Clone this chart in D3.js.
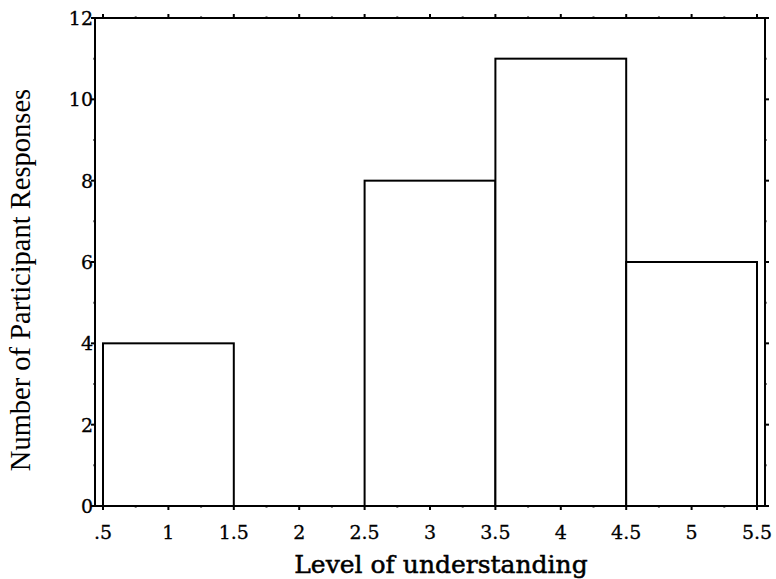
<!DOCTYPE html>
<html>
<head>
<meta charset="utf-8">
<script src="https://cdn.jsdelivr.net/npm/d3@7"></script>
<style>
  body { margin: 0; background: #fff; }
  svg { display: block; }
</style>
</head>
<body>
<div id="chart"></div>
<script>
// histogram data
var binStarts = [0.5, 1.5, 2.5, 3.5, 4.5];
var binEnds = [1.5, 2.5, 3.5, 4.5, 5.5];
var counts = [4, 0, 8, 11, 6];

var xTicks = [0.5, 1, 1.5, 2, 2.5, 3, 3.5, 4, 4.5, 5, 5.5];
var xTickLabels = [".5", "1", "1.5", "2", "2.5", "3", "3.5", "4", "4.5", "5", "5.5"];
var xMinor = [0.75, 1.25, 1.75, 2.25, 2.75, 3.25, 3.75, 4.25, 4.75, 5.25];
var yTicks = [0, 2, 4, 6, 8, 10, 12];
var yMinor = [1, 3, 5, 7, 9, 11];

var width = 776, height = 579;
var m = { left: 95, right: 765, top: 18, bottom: 506 };

var svg = d3.select("#chart").append("svg")
  .attr("width", width)
  .attr("height", height);

// x domain padded a little past the bins
var pad = 8 * 5 / (m.right - m.left - 16);
var x = d3.scaleLinear().domain([0.5 - pad, 5.5 + pad]).range([m.left, m.right]);
var y = d3.scaleLinear().domain([0, 12]).range([m.bottom, m.top]);

// bars
svg.selectAll("rect.bar")
  .data(counts)
  .enter().append("rect")
  .attr("class", "bar")
  .attr("x", (d, i) => x(binStarts[i]))
  .attr("y", d => y(d))
  .attr("width", (d, i) => x(binEnds[i]) - x(binStarts[i]))
  .attr("height", d => y(0) - y(d))
  .attr("fill", "#fff")
  .attr("stroke", "#000")
  .attr("stroke-width", 2);

// frame
svg.append("rect")
  .attr("x", m.left).attr("y", m.top)
  .attr("width", m.right - m.left).attr("height", m.bottom - m.top)
  .attr("fill", "none")
  .attr("stroke", "#000")
  .attr("stroke-width", 2);

var tickFont = "'DejaVu Serif', serif";

// bottom & top ticks
function xTickLines(vals, len) {
  vals.forEach(v => {
    svg.append("line").attr("x1", x(v)).attr("x2", x(v))
      .attr("y1", m.bottom).attr("y2", m.bottom + len)
      .attr("stroke", "#000").attr("stroke-width", 2);
    svg.append("line").attr("x1", x(v)).attr("x2", x(v))
      .attr("y1", m.top).attr("y2", m.top - len)
      .attr("stroke", "#000").attr("stroke-width", 2);
  });
}
xTickLines(xTicks, 4);
xTickLines(xMinor, 1.5);

function yTickLines(vals, len) {
  vals.forEach(v => {
    svg.append("line").attr("x1", m.left).attr("x2", m.left - len)
      .attr("y1", y(v)).attr("y2", y(v))
      .attr("stroke", "#000").attr("stroke-width", 2);
    svg.append("line").attr("x1", m.right).attr("x2", m.right + len)
      .attr("y1", y(v)).attr("y2", y(v))
      .attr("stroke", "#000").attr("stroke-width", 2);
  });
}
yTickLines(yTicks, 4);
yTickLines(yMinor, 1.5);

// tick labels
svg.selectAll("text.xt")
  .data(xTicks)
  .enter().append("text")
  .attr("class", "xt")
  .attr("x", d => x(d))
  .attr("y", 539)
  .attr("text-anchor", "middle")
  .style("font-family", tickFont)
  .style("font-size", "19px")
  .style("stroke", "#000").style("stroke-width", 0.3)
  .text((d, i) => xTickLabels[i]);

svg.selectAll("text.yt")
  .data(yTicks)
  .enter().append("text")
  .attr("class", "yt")
  .attr("x", m.left - 2)
  .attr("y", d => y(d) + 7)
  .attr("text-anchor", "end")
  .style("font-family", tickFont)
  .style("font-size", "19px")
  .style("stroke", "#000").style("stroke-width", 0.3)
  .text(d => d);

// axis titles
svg.append("text")
  .attr("x", 441).attr("y", 573)
  .attr("text-anchor", "middle")
  .style("font-family", tickFont)
  .style("font-size", "25px")
  .style("stroke", "#000").style("stroke-width", 0.5)
  .text("Level of understanding");

svg.append("text")
  .attr("transform", "translate(30,280) rotate(-90)")
  .attr("text-anchor", "middle")
  .style("font-family", "'Liberation Serif', 'Times New Roman', serif")
  .style("font-size", "28.5px")
  .text("Number of Participant Responses");
</script>
</body>
</html>
